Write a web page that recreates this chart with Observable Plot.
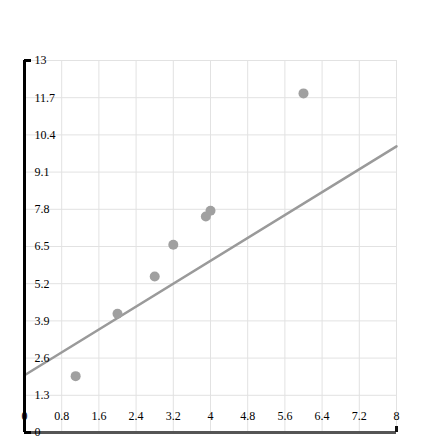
<!DOCTYPE html>
<html>
<head>
<meta charset="utf-8">
<script src="https://cdn.jsdelivr.net/npm/d3@7"></script>
<script src="https://cdn.jsdelivr.net/npm/@observablehq/plot@0.6"></script>
<style>
  html, body { margin: 0; padding: 0; background: #fff; }
</style>
</head>
<body>
<div id="chart"></div>
<script>
// Data
const pointX = [1.1, 2.0, 2.8, 3.2, 3.9, 4.0, 6.0];
const pointY = [1.97, 4.15, 5.45, 6.56, 7.55, 7.75, 11.85];
const lineX = [0, 8];
const lineY = [2, 10];
const xTicks = [0, 0.8, 1.6, 2.4, 3.2, 4, 4.8, 5.6, 6.4, 7.2, 8];
const xTickLabels = ["0", "0.8", "1.6", "2.4", "3.2", "4", "4.8", "5.6", "6.4", "7.2", "8"];
const yTicks = [0, 1.3, 2.6, 3.9, 5.2, 6.5, 7.8, 9.1, 10.4, 11.7, 13];
const yTickLabels = ["0", "1.3", "2.6", "3.9", "5.2", "6.5", "7.8", "9.1", "10.4", "11.7", "13"];

const points = pointX.map((x, i) => ({x, y: pointY[i]}));
const line = lineX.map((x, i) => ({x, y: lineY[i]}));
const xt = xTicks.map((v, i) => ({v, label: xTickLabels[i]}));
const yt = yTicks.map((v, i) => ({v, label: yTickLabels[i]}));

const font = "'Liberation Serif', 'DejaVu Serif', serif";

const chart = Plot.plot({
  width: 421,
  height: 445,
  marginLeft: 24,
  marginRight: 25,
  marginTop: 60,
  marginBottom: 13,
  x: {domain: [0, 8], axis: null},
  y: {domain: [0, 13], axis: null},
  style: {fontFamily: font, background: "#fff", overflow: "visible"},
  marks: [
    // grid
    Plot.ruleX(xTicks.filter(v => v > 0), {y1: 0, y2: 13, stroke: "#e2e2e2", strokeWidth: 1}),
    Plot.ruleY(yTicks.filter(v => v > 0), {x1: 0, x2: 8, stroke: "#e2e2e2", strokeWidth: 1}),
    // line
    Plot.line(line, {x: "x", y: "y", stroke: "#9a9a9a", strokeWidth: 2.5}),
    // points
    Plot.dot(points, {x: "x", y: "y", r: 5, fill: "#a0a0a0", stroke: "none"}),
    // x axis domain
    Plot.ruleY([0], {x1: 0, x2: 8, stroke: "#555", strokeWidth: 3}),
    Plot.ruleX([8], {y1: 0, y2: 0, insetTop: -6, stroke: "#111", strokeWidth: 3}),
    // y axis domain
    Plot.ruleX([0], {y1: 0, y2: 13, stroke: "#000", strokeWidth: 3}),
    Plot.ruleY([0, 13], {x1: 0, x2: 0, insetRight: -7, stroke: "#000", strokeWidth: 3}),
    // labels
    Plot.text(xt, {x: "v", y: 0, text: "label", dy: -16, textAnchor: "middle", lineAnchor: "middle", fill: "#000", fontSize: 12, fontFamily: font}),
    Plot.text(yt, {x: 0, y: "v", text: "label", dx: 10, textAnchor: "start", lineAnchor: "middle", fill: "#000", fontSize: 12, fontFamily: font})
  ]
});
document.getElementById("chart").appendChild(chart);
</script>
</body>
</html>
